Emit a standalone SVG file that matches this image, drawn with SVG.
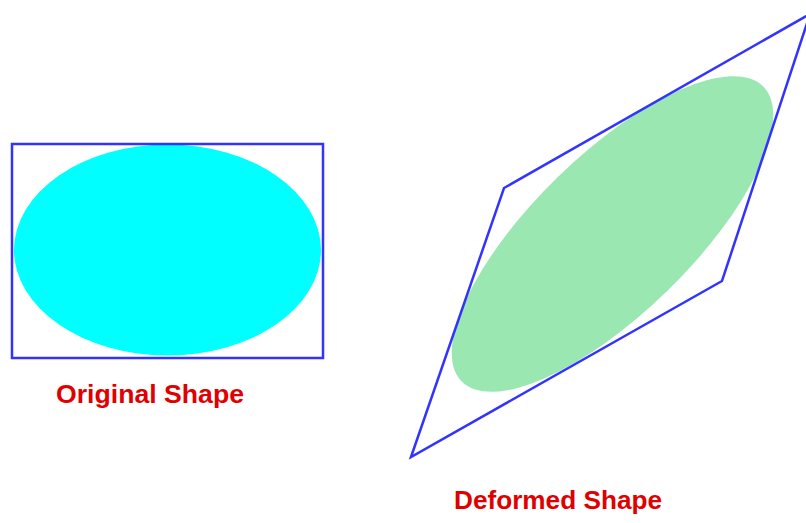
<svg xmlns="http://www.w3.org/2000/svg" width="806" height="523" viewBox="0 0 806 523">
<style>
.frame{fill:none;stroke:#3333ff;stroke-width:2.5;stroke-linejoin:miter}
.label{font-family:"Liberation Sans",Arial,sans-serif;font-weight:bold;font-size:25px;fill:#e00000}
</style>
<rect width="806" height="523" fill="#ffffff"/>
<g id="original">
<ellipse cx="167.5" cy="250" rx="153.5" ry="105.5" fill="#00ffff"/>
<rect class="frame" x="12" y="144" width="311" height="214"/>
<text class="label" x="56" y="403" textLength="188" lengthAdjust="spacingAndGlyphs">Original Shape</text>
</g>
<g id="deformed">
<ellipse cx="612.5" cy="234" rx="211" ry="79" fill="#9be7b2" transform="rotate(-44.3 612.5 234)"/>
<polygon class="frame" points="411,457 504,188 810,14 722,281"/>
<text class="label" x="454" y="509" textLength="208" lengthAdjust="spacingAndGlyphs">Deformed Shape</text>
</g>
</svg>
